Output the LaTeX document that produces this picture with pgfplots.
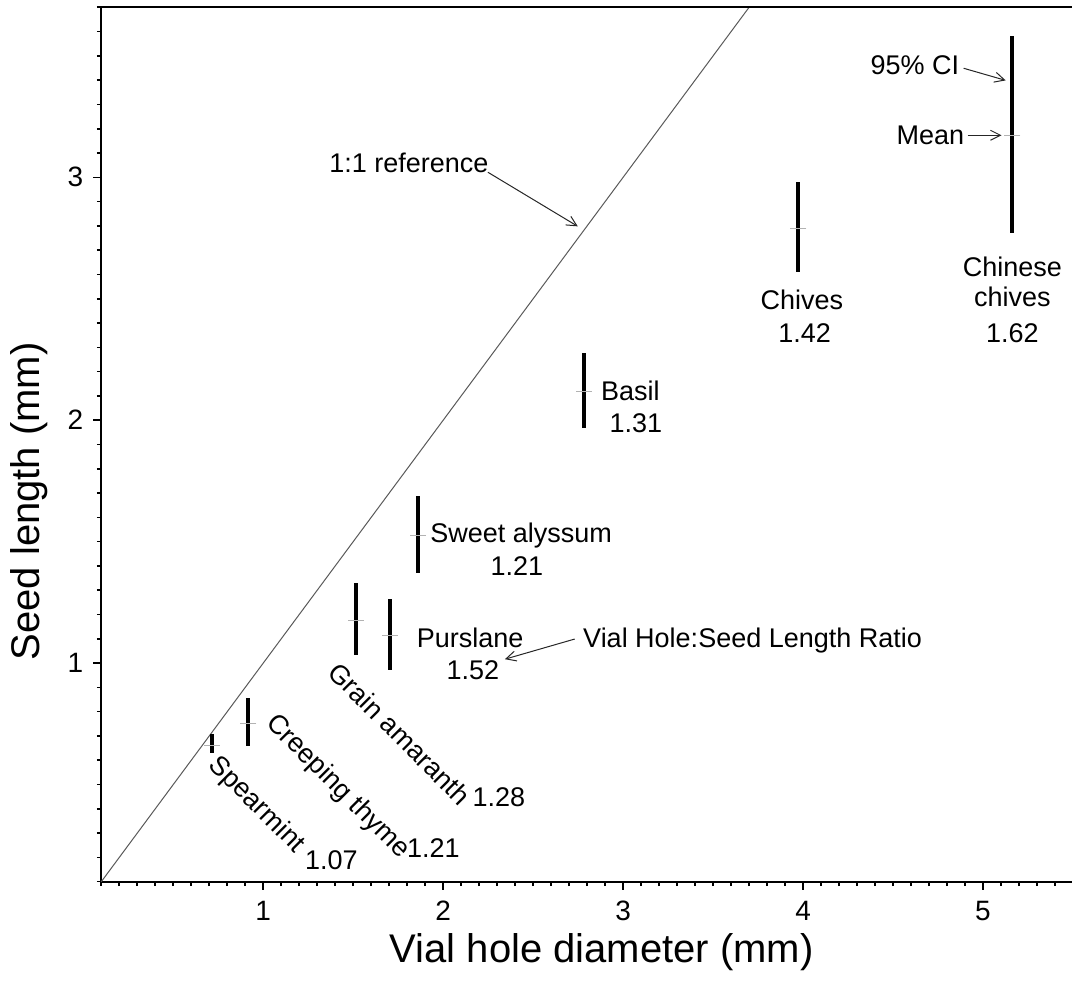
\documentclass[border=0pt]{standalone}
\usepackage{fontspec}
\setmainfont{Liberation Sans}
\usepackage{pgfplots}
\usepackage{pgfplotstable}
\pgfplotsset{compat=1.18}
\usetikzlibrary{calc,arrows.meta}

% x = hole diameter, y = mean seed length, yp/ym = CI half widths
\pgfplotstableread{
x     y     yp    ym
0.713 0.660 0.047 0.032
0.917 0.752 0.103 0.092
1.515 1.177 0.153 0.144
1.704 1.112 0.150 0.141
1.860 1.527 0.160 0.157
2.780 2.119 0.157 0.152
3.974 2.791 0.190 0.181
5.163 3.173 0.407 0.402
}\seeds

\pgfplotstableread{
x   y
0.1 0.1
3.7 3.7
}\oneone

\newcommand\af{\fontsize{13.5}{16}\selectfont}

\begin{document}
\begin{tikzpicture}
\begin{axis}[
  name=ax,
  scale only axis,
  width=485.85pt, height=437.2pt,
  xmin=0.1, xmax=5.5, ymin=0.1, ymax=3.7,
  axis x line*=bottom, axis y line*=left,
  axis line style={line width=1pt,-},
  xtick={1,2,3,4,5}, ytick={1,2,3},
  minor xtick={0.1,0.2,...,5.5}, minor ytick={0.1,0.2,...,3.7},
  tick align=outside,
  major tick length=4pt, minor tick length=2.2pt,
  major tick style={black, line width=0.8pt},
  minor tick style={black, line width=0.8pt},
  tick label style={font=\fontsize{14}{16}\selectfont},
  xticklabel style={yshift=-2pt},
  yticklabel style={xshift=-1.5pt},
  /pgf/number format/assume math mode=true,
  xlabel={Vial hole diameter (mm)},
  ylabel={Seed length (mm)},
  every axis x label/.style={at={(axis description cs:0.515,0)}, anchor=center, yshift=-35pt},
  every axis y label/.style={at={(axis description cs:0,0.435)}, rotate=90, anchor=center, yshift=36pt},
  label style={font=\fontsize{20}{24}\selectfont},
  clip=false,
]
\addplot[gray!70!black, line width=0.5pt] table {\oneone};

\addplot[only marks, mark=-, mark size=4pt, mark options={gray!60, line width=0.5pt},
  error bars/.cd, y dir=both, y explicit, error mark=none,
  error bar style={line width=2pt, black}]
  table[x=x, y=y, y error plus=yp, y error minus=ym] {\seeds};

\draw[line width=1pt] (rel axis cs:0,1) -- (rel axis cs:1,1);

% annotations
\node[font=\af] at (axis cs:1.809,3.058) {1:1 reference};
\draw[gray!30!black, line width=0.5pt, -{Straight Barb[length=5pt,width=5pt]}]
  (axis cs:2.248,3.021) -- (axis cs:2.748,2.798);

\node[font=\af, anchor=east, inner sep=1pt] at (axis cs:4.881,3.461) {95\% CI};
\draw[gray!30!black, line width=0.5pt, -{Straight Barb[length=5pt,width=5pt]}]
  (axis cs:4.892,3.449) -- (axis cs:5.126,3.399);
\node[font=\af, anchor=east, inner sep=1pt] at (axis cs:4.908,3.173) {Mean};
\draw[gray!30!black, line width=0.5pt, -{Straight Barb[length=5pt,width=5pt]}]
  (axis cs:4.915,3.173) -- (axis cs:5.103,3.173);

\node[font=\af] at (axis cs:5.163,2.631) {Chinese};
\node[font=\af] at (axis cs:5.163,2.508) {chives};
\node[font=\af] at (axis cs:5.163,2.358) {1.62};

\node[font=\af] at (axis cs:3.993,2.494) {Chives};
\node[font=\af] at (axis cs:4.009,2.358) {1.42};

\node[font=\af, anchor=west, inner sep=0pt] at (axis cs:2.876,2.119) {Basil};
\node[font=\af] at (axis cs:3.071,1.988) {1.31};

\node[font=\af, anchor=west, inner sep=0pt] at (axis cs:1.926,1.527) {Sweet alyssum};
\node[font=\af] at (axis cs:2.409,1.399) {1.21};

\node[font=\af, anchor=west, inner sep=0pt] at (axis cs:1.852,1.103) {Purslane};
\node[font=\af] at (axis cs:2.165,0.971) {1.52};

\node[font=\af, anchor=west, inner sep=0pt] at (axis cs:2.776,1.091) {Vial Hole:Seed Length Ratio};
\draw[gray!30!black, line width=0.5pt, -{Straight Barb[length=5pt,width=5pt]}]
  (axis cs:2.731,1.099) -- (axis cs:2.343,1.016);

\node[font=\af, rotate=-45] at (axis cs:1.759,0.710) {Grain amaranth};
\node[font=\af] at (axis cs:2.309,0.449) {1.28};
\node[font=\af, rotate=-45] at (axis cs:1.412,0.490) {Creeping thyme};
\node[font=\af] at (axis cs:1.946,0.239) {1.21};
\node[font=\af, rotate=-45] at (axis cs:0.962,0.416) {Spearmint};
\node[font=\af] at (axis cs:1.379,0.189) {1.07};
\end{axis}
\pgfresetboundingbox
\path[use as bounding box] ($(ax.south west)+(-50.65pt,-49.65pt)$) rectangle ($(ax.north east)+(-0.5pt,3.65pt)$);
\end{tikzpicture}
\end{document}
